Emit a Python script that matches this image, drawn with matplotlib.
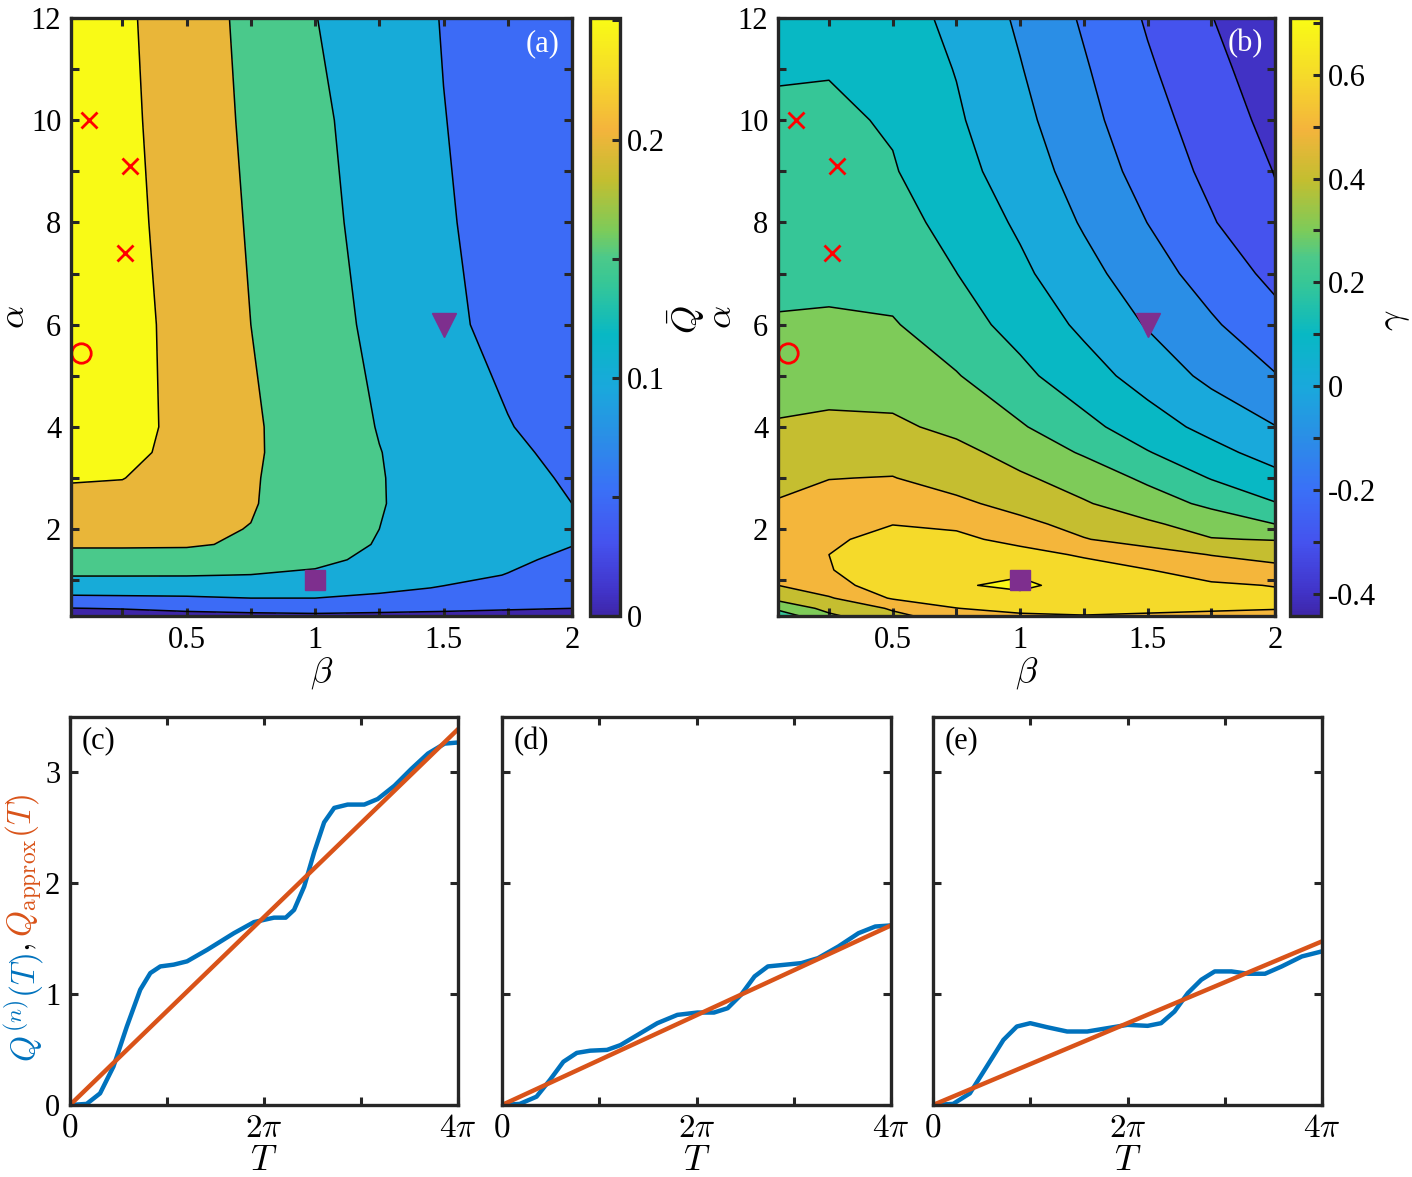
import numpy as np
import matplotlib
matplotlib.use('Agg')
import matplotlib.pyplot as plt
from matplotlib.colors import LinearSegmentedColormap, Normalize
from matplotlib.cm import ScalarMappable

plt.rcParams['font.family'] = 'Liberation Serif'
plt.rcParams['mathtext.fontset'] = 'cm'

# ---------------- data ----------------
beta_grid = [0.05, 0.25, 0.5, 0.75, 1.0, 1.25, 1.5, 1.75, 2.0]

# panel (a): Qbar(beta, alpha)
alpha_a = [0.3, 0.45, 0.65, 0.85, 1.1, 1.4, 1.7, 2.0, 2.5, 3.0, 3.5, 4.0, 6.0, 8.0, 10.0, 12.0]
Qbar = [
    [0.020, 0.030, 0.038, 0.041, 0.0425, 0.040, 0.038, 0.034, 0.030],
    [0.049, 0.052, 0.058, 0.062, 0.065, 0.062, 0.058, 0.054, 0.050],
    [0.090, 0.092, 0.095, 0.100, 0.100, 0.093, 0.085, 0.080, 0.077],
    [0.125, 0.125, 0.122, 0.120, 0.118, 0.108, 0.098, 0.090, 0.085],
    [0.152, 0.152, 0.152, 0.149, 0.143, 0.128, 0.110, 0.099, 0.088],
    [0.190, 0.190, 0.188, 0.180, 0.160, 0.140, 0.122, 0.106, 0.093],
    [0.203, 0.203, 0.203, 0.196, 0.170, 0.147, 0.132, 0.116, 0.101],
    [0.215, 0.213, 0.207, 0.199, 0.174, 0.150, 0.133, 0.118, 0.105],
    [0.238, 0.236, 0.225, 0.203, 0.178, 0.152, 0.134, 0.117, 0.100],
    [0.253, 0.251, 0.231, 0.204, 0.178, 0.152, 0.132, 0.113, 0.095],
    [0.270, 0.262, 0.236, 0.206, 0.178, 0.151, 0.129, 0.108, 0.089],
    [0.291, 0.267, 0.237, 0.206, 0.177, 0.148, 0.125, 0.102, 0.082],
    [0.295, 0.268, 0.234, 0.200, 0.170, 0.139, 0.110, 0.086, 0.072],
    [0.292, 0.264, 0.230, 0.196, 0.164, 0.133, 0.104, 0.085, 0.070],
    [0.289, 0.261, 0.226, 0.192, 0.159, 0.129, 0.101, 0.082, 0.067],
    [0.286, 0.258, 0.224, 0.188, 0.151, 0.125, 0.098, 0.080, 0.065],
]
levels_a = [0.05, 0.10, 0.15, 0.20, 0.25]

# panel (b): gamma(beta, alpha)
alpha_b = [0.3, 0.45, 0.65, 0.9, 1.2, 1.5, 1.8, 2.1, 2.5, 3.0, 3.5, 4.0,
           5.0, 6.0, 7.0, 8.0, 9.0, 10.0, 11.0, 12.0]
gamma = [
    [0.24, 0.38, 0.48, 0.54, 0.58, 0.595, 0.585, 0.575, 0.57],
    [0.32, 0.43, 0.51, 0.598, 0.635, 0.635, 0.625, 0.615, 0.605],
    [0.43, 0.49, 0.61, 0.65, 0.67, 0.655, 0.64, 0.63, 0.62],
    [0.50, 0.565, 0.65, 0.69, 0.72, 0.66, 0.635, 0.612, 0.597],
    [0.55, 0.595, 0.66, 0.69, 0.68, 0.65, 0.603, 0.56, 0.525],
    [0.56, 0.60, 0.655, 0.665, 0.64, 0.587, 0.542, 0.497, 0.47],
    [0.55, 0.585, 0.63, 0.625, 0.567, 0.505, 0.46, 0.405, 0.395],
    [0.54, 0.575, 0.598, 0.58, 0.525, 0.467, 0.415, 0.358, 0.30],
    [0.505, 0.53, 0.55, 0.52, 0.467, 0.409, 0.346, 0.279, 0.205],
    [0.48, 0.498, 0.503, 0.459, 0.415, 0.355, 0.282, 0.195, 0.13],
    [0.45, 0.465, 0.46, 0.43, 0.36, 0.29, 0.205, 0.132, 0.058],
    [0.41, 0.42, 0.42, 0.373, 0.31, 0.228, 0.146, 0.07, 0.003],
    [0.35, 0.36, 0.345, 0.306, 0.224, 0.142, 0.059, -0.024, -0.095],
    [0.31, 0.315, 0.308, 0.241, 0.166, 0.08, -0.007, -0.087, -0.167],
    [0.27, 0.272, 0.26, 0.201, 0.12, 0.032, -0.057, -0.143, -0.225],
    [0.25, 0.25, 0.238, 0.165, 0.085, -0.01, -0.101, -0.192, -0.282],
    [0.23, 0.228, 0.207, 0.134, 0.051, -0.043, -0.137, -0.224, -0.303],
    [0.21, 0.218, 0.19, 0.1125, 0.026, -0.07, -0.163, -0.248, -0.33],
    [0.195, 0.195, 0.16, 0.096, 0.005, -0.09, -0.187, -0.272, -0.355],
    [0.175, 0.17, 0.145, 0.075, -0.015, -0.112, -0.21, -0.297, -0.385],
]
levels_b = [-0.4, -0.3, -0.2, -0.1, 0.0, 0.1, 0.2, 0.3, 0.4, 0.5, 0.6, 0.7]

# marked parameter points
cross_beta = [0.12, 0.28, 0.26]
cross_alpha = [10.0, 9.1, 7.4]
circ_beta, circ_alpha = 0.09, 5.45
tri_beta, tri_alpha = 1.5, 6.0
sq_beta, sq_alpha = 1.0, 1.0

# panels (c)-(e): T in units of pi
T_c = [0, 0.172, 0.31, 0.448, 0.586, 0.724, 0.828, 0.931, 1.069, 1.207, 1.414, 1.69,
       1.897, 2.103, 2.224, 2.31, 2.414, 2.517, 2.62, 2.724, 2.862, 3.034, 3.172,
       3.345, 3.517, 3.69, 3.862, 4.0]
Q_c = [0, 0.01, 0.105, 0.347, 0.708, 1.04, 1.19, 1.25, 1.266, 1.296, 1.40, 1.55,
       1.65, 1.69, 1.69, 1.76, 1.97, 2.28, 2.55, 2.68, 2.71, 2.71, 2.76,
       2.88, 3.03, 3.17, 3.26, 3.27]
T_d = [0, 0.183, 0.355, 0.493, 0.631, 0.769, 0.907, 1.08, 1.217, 1.39, 1.597, 1.803,
       2.01, 2.18, 2.32, 2.458, 2.597, 2.734, 2.907, 3.08, 3.25, 3.459, 3.666, 3.838, 4.0]
Q_d = [0, 0.01, 0.075, 0.226, 0.39, 0.47, 0.49, 0.497, 0.54, 0.63, 0.738, 0.813,
       0.834, 0.834, 0.873, 0.994, 1.16, 1.25, 1.265, 1.28, 1.325, 1.43, 1.55, 1.61, 1.62]
T_e = [0, 0.207, 0.379, 0.552, 0.724, 0.862, 1.0, 1.172, 1.379, 1.586, 1.793, 2.0,
       2.207, 2.345, 2.483, 2.62, 2.759, 2.897, 3.069, 3.24, 3.414, 3.586, 3.793, 4.0]
Q_e = [0, 0.01, 0.105, 0.346, 0.587, 0.708, 0.738, 0.702, 0.663, 0.663, 0.693, 0.723,
       0.714, 0.738, 0.843, 1.009, 1.13, 1.205, 1.205, 1.184, 1.184, 1.25, 1.34, 1.386]
T_lin = [0, 4.0]
Qapp_c = [0, 3.39]
Qapp_d = [0, 1.62]
Qapp_e = [0, 1.476]

# ---------------- style ----------------
parula = LinearSegmentedColormap.from_list('parula', [
    (0.00, '#3E26A8'), (0.04, '#4134C9'), (0.12, '#4552EE'), (0.21, '#3A70F7'),
    (0.30, '#2A8FE6'), (0.38, '#1AA8DC'), (0.47, '#08B8C4'), (0.56, '#38C795'),
    (0.60, '#4CC98A'), (0.645, '#7CCB5A'), (0.73, '#C3BE30'), (0.815, '#F4B43C'),
    (0.905, '#F5DA2A'), (1.00, '#F9FB15')])
frame_col = '#262626'
blue = '#0072BD'
orange = '#D95319'
purple = '#7E2F8E'

W, H = 1412, 1177
fig = plt.figure(figsize=(W / 100, H / 100), dpi=100)


def box(x0, x1, y0, y1):
    return [x0 / W, 1 - y1 / H, (x1 - x0) / W, (y1 - y0) / H]


def style_frame(ax):
    for s in ax.spines.values():
        s.set_linewidth(2.4)
        s.set_color(frame_col)
    ax.tick_params(direction='in', top=True, right=True, length=6, width=2.2,
                   color=frame_col, labelsize=22, pad=7)


def draw_map(ax, cax, Z, alpha, levels, vmin, vmax, cticks, clabels, clab, lab, labx):
    norm = Normalize(vmin, vmax)
    bounds = [-10] + levels + [10]
    cols = [parula(norm(vmin))] + [parula(norm(l)) for l in levels]
    ax.contourf(beta_grid, alpha, Z, levels=bounds, colors=cols)
    ax.contour(beta_grid, alpha, Z, levels=levels, colors='k', linewidths=1.1,
               linestyles='solid')
    ax.set_xlim(0.05, 2)
    ax.set_ylim(0.3, 12)
    ax.set_xticks(np.arange(0.25, 2.01, 0.25))
    ax.set_xticklabels(['', '0.5', '', '1', '', '1.5', '', '2'])
    ax.set_yticks(np.arange(1, 13))
    ax.set_yticklabels(['', '2', '', '4', '', '6', '', '8', '', '10', '', '12'])
    style_frame(ax)
    ax.set_xlabel(r'$\beta$', fontsize=26, labelpad=0)
    ax.set_ylabel(r'$\alpha$', fontsize=26)
    ax.yaxis.set_label_coords(-0.078, 0.5)

    ax.plot(cross_beta, cross_alpha, 'x', color='r', ms=12, mew=2)
    ax.plot(circ_beta, circ_alpha, 'o', mfc='none', mec='r', ms=14, mew=2, clip_on=False)
    ax.plot(tri_beta, tri_alpha, 'v', color=purple, ms=17)
    ax.plot(sq_beta, sq_alpha, 's', color=purple, ms=14)
    ax.text(0.976, 0.982, lab, transform=ax.transAxes, color='white',
            ha='right', va='top', fontsize=22)

    cb = fig.colorbar(ScalarMappable(norm=norm, cmap=parula), cax=cax)
    cb.set_ticks(cticks)
    cb.set_ticklabels(clabels)
    cb.outline.set_linewidth(2.4)
    cb.outline.set_edgecolor(frame_col)
    cax.tick_params(direction='in', length=6, width=2.2, color=frame_col,
                    labelsize=22, pad=5)
    fig.text(labx / W, 1 - 320 / H, clab, rotation=90, ha='center', va='center',
             fontsize=26)


ax_a = fig.add_axes(box(71, 572, 18, 616))
cax_a = fig.add_axes(box(590, 620, 18, 616))
draw_map(ax_a, cax_a, Qbar, alpha_a, levels_a, 0.0, 0.251,
         [0, 0.05, 0.1, 0.15, 0.2, 0.25], ['0', '', '0.1', '', '0.2', ''],
         r'$\bar{Q}$', '(a)', 686)

ax_b = fig.add_axes(box(778, 1275, 18, 616))
cax_b = fig.add_axes(box(1290, 1321, 18, 616))
draw_map(ax_b, cax_b, gamma, alpha_b, levels_b, -0.442, 0.709,
         [-0.4, -0.3, -0.2, -0.1, 0, 0.1, 0.2, 0.3, 0.4, 0.5, 0.6, 0.7],
         ['-0.4', '', '-0.2', '', '0', '', '0.2', '', '0.4', '', '0.6', ''],
         r'$\gamma$', '(b)', 1395)

# ---------------- lower panels ----------------
lower = [(box(70, 458, 717, 1105), T_c, Q_c, Qapp_c, '(c)'),
         (box(502, 891, 717, 1105), T_d, Q_d, Qapp_d, '(d)'),
         (box(933, 1322, 717, 1105), T_e, Q_e, Qapp_e, '(e)')]
for i, (rect, T, Q, Qa, lab) in enumerate(lower):
    ax = fig.add_axes(rect)
    ax.plot(np.array(T) * np.pi, Q, color=blue, lw=3.2)
    ax.plot(np.array(T_lin) * np.pi, Qa, color=orange, lw=3.2)
    ax.set_xlim(0, 4 * np.pi)
    ax.set_ylim(0, 3.5)
    ax.set_xticks(np.arange(5) * np.pi)
    ax.set_xticklabels([r'$0$', '', r'$2\pi$', '', r'$4\pi$'])
    ax.set_yticks([0, 1, 2, 3])
    if i > 0:
        ax.set_yticklabels([])
    style_frame(ax)
    ax.tick_params(axis='x', labelsize=24, pad=6)
    ax.set_xlabel(r'$T$', fontsize=26, labelpad=1)
    ax.text(0.03, 0.975, lab, transform=ax.transAxes, ha='left', va='top', fontsize=22)

# two-coloured y label of panel (c)
fig.canvas.draw()
rend = fig.canvas.get_renderer()
x_lab = 24 / W
t1 = fig.text(x_lab, (H - 1062) / H, r'$Q^{(n)}(T)$', color=blue, rotation=90,
              ha='center', va='bottom', fontsize=24)
bb = t1.get_window_extent(rend)
t2 = fig.text(x_lab, (bb.y1 + 1) / H, r'$,$', color='k', rotation=90,
              ha='center', va='bottom', fontsize=24)
bb = t2.get_window_extent(rend)
fig.text(x_lab, (bb.y1 + 6) / H, r'$Q_{\rm approx}(T)$', color=orange, rotation=90,
         ha='center', va='bottom', fontsize=24)

fig.savefig('out.png', dpi=100)
